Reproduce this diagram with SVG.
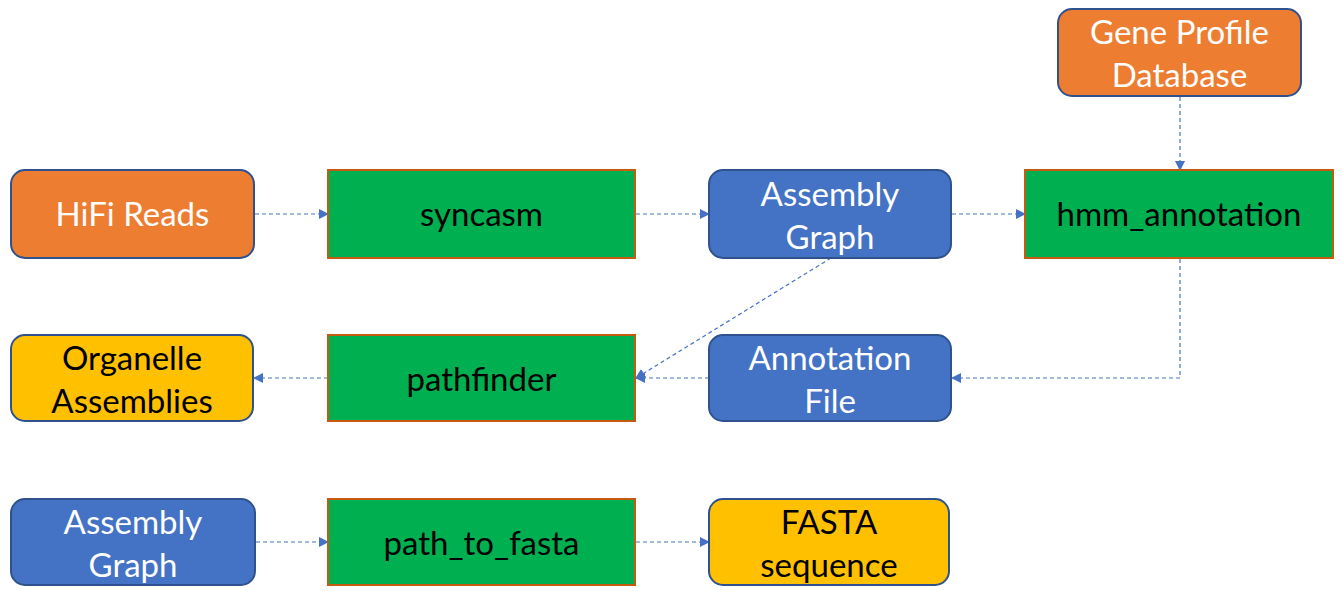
<svg xmlns="http://www.w3.org/2000/svg" width="1342" height="593" viewBox="0 0 1342 593">
<defs>
<style>
.t{font-family:Lato,"Open Sans","Noto Sans",sans-serif;font-size:33px;text-anchor:middle}
.w{fill:#ffffff}
.k{fill:#000000}
.orange{fill:#ED7D31;stroke:#2F528F;stroke-width:2}
.blue{fill:#4472C4;stroke:#2F528F;stroke-width:2}
.yellow{fill:#FFC000;stroke:#2F528F;stroke-width:2}
.green{fill:#00B050;stroke:#C55A11;stroke-width:2}
.c{fill:none;stroke:#4472C4;stroke-width:1.2;stroke-dasharray:4 3;marker-end:url(#ah)}
</style>
<marker id="ah" markerWidth="10" markerHeight="10" refX="9" refY="5" orient="auto" markerUnits="userSpaceOnUse">
<path d="M0,0 L10,5 L0,10 Z" fill="#4472C4"/>
</marker>
</defs>
<rect width="1342" height="593" fill="#ffffff"/>
<g id="connectors">
<line class="c" x1="255" y1="214" x2="328" y2="214"/>
<line class="c" x1="636" y1="214" x2="709" y2="214"/>
<line class="c" x1="952" y1="214" x2="1025" y2="214"/>
<line class="c" x1="1180" y1="97" x2="1180" y2="170"/>
<polyline class="c" points="1180,259 1180,378 952,378"/>
<line class="c" x1="709" y1="378" x2="636" y2="378"/>
<line class="c" x1="831" y1="258" x2="636" y2="378"/>
<line class="c" x1="328" y1="378" x2="254" y2="378"/>
<line class="c" x1="256" y1="542" x2="328" y2="542"/>
<line class="c" x1="636" y1="542" x2="709" y2="542"/>
</g>
<g id="hifi"><rect class="orange" x="11" y="170" width="243" height="88" rx="14"/><text class="t w" x="132.5" y="226">HiFi Reads</text></g>
<g id="syncasm"><rect class="green" x="328" y="170" width="307" height="88"/><text class="t k" x="481.5" y="226">syncasm</text></g>
<g id="assembly1"><rect class="blue" x="709" y="170" width="242" height="88" rx="14"/><text class="t w" x="830" y="206">Assembly</text><text class="t w" x="830" y="249">Graph</text></g>
<g id="hmm"><rect class="green" x="1025" y="170" width="308" height="88"/><text class="t k" x="1179" y="226">hmm_annotation</text></g>
<g id="gene"><rect class="orange" x="1058" y="9" width="243" height="87" rx="14"/><text class="t w" x="1179.5" y="44">Gene Profile</text><text class="t w" x="1179.5" y="87">Database</text></g>
<g id="organelle"><rect class="yellow" x="11" y="335" width="242" height="86" rx="14"/><text class="t k" x="132" y="370">Organelle</text><text class="t k" x="132" y="413">Assemblies</text></g>
<g id="pathfinder"><rect class="green" x="328" y="335" width="307" height="86"/><text class="t k" x="481.5" y="391">pathfinder</text></g>
<g id="annotation"><rect class="blue" x="709" y="335" width="242" height="86" rx="14"/><text class="t w" x="830" y="370">Annotation</text><text class="t w" x="830" y="413">File</text></g>
<g id="assembly2"><rect class="blue" x="11" y="499" width="244" height="86" rx="14"/><text class="t w" x="133" y="534">Assembly</text><text class="t w" x="133" y="577">Graph</text></g>
<g id="path_to_fasta"><rect class="green" x="328" y="499" width="307" height="86"/><text class="t k" x="481.5" y="555">path_to_fasta</text></g>
<g id="fasta"><rect class="yellow" x="709" y="499" width="240" height="86" rx="14"/><text class="t k" x="829" y="534">FASTA</text><text class="t k" x="829" y="577">sequence</text></g>
</svg>
